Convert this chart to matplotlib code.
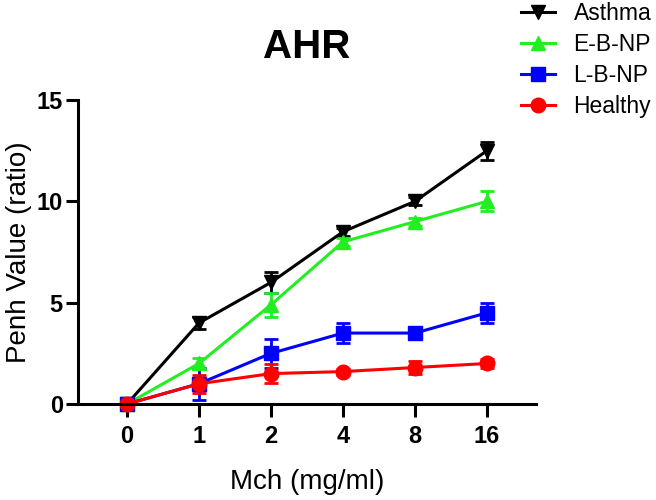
import matplotlib.pyplot as plt
from matplotlib.lines import Line2D

plt.rcParams['font.family'] = ['Liberation Sans', 'DejaVu Sans']

doses = ['0', '1', '2', '4', '8', '16']
asthma = [0, 4.0, 6.0, 8.5, 10.0, 12.5]
asthma_err = [0, 0.3, 0.5, 0.2, 0.2, 0.45]
ebnp = [0, 2.0, 4.9, 8.0, 9.0, 10.0]
ebnp_err = [0, 0.25, 0.6, 0.2, 0.2, 0.5]
lbnp = [0, 1.0, 2.5, 3.5, 3.5, 4.5]
lbnp_err = [0, 0.8, 0.7, 0.5, 0.2, 0.5]
healthy = [0, 1.0, 1.5, 1.6, 1.8, 2.0]
healthy_err = [0, 0.45, 0.45, 0.15, 0.3, 0.2]

x = list(range(len(doses)))

fig = plt.figure(figsize=(6.56, 5), dpi=100)
ax = fig.add_axes([0.119, 0.192, 0.698, 0.608])

series = [
    ('Asthma', asthma, asthma_err, 'black', 'v'),
    ('E-B-NP', ebnp, ebnp_err, '#22ee22', '^'),
    ('L-B-NP', lbnp, lbnp_err, '#0000ff', 's'),
    ('Healthy', healthy, healthy_err, '#ff0000', 'o'),
]
handles = []
for name, vals, errs, col, mk in series:
    ax.errorbar(x, vals, yerr=errs, color=col, marker=mk, markersize=10.5,
                linewidth=2.2, elinewidth=2, capsize=5, capthick=2,
                clip_on=False)
    handles.append(Line2D([], [], color=col, marker=mk, markersize=10.5,
                          linewidth=2.2, label=name))

ax.set_xlim(-0.68, 5.68)
ax.set_ylim(0, 15)
ax.set_xticks(x)
ax.set_xticklabels(doses)
ax.set_yticks([0, 5, 10, 15])
ax.spines['top'].set_visible(False)
ax.spines['right'].set_visible(False)
ax.spines['left'].set_linewidth(2.2)
ax.spines['bottom'].set_linewidth(2.2)
ax.tick_params(width=2.2, length=9, labelsize=17)
ax.tick_params(axis='x', pad=6)
ax.tick_params(axis='y', pad=2)
for lbl in ax.get_xticklabels() + ax.get_yticklabels():
    lbl.set_fontweight('bold')

ax.set_xlabel('Mch (mg/ml)', fontsize=20, labelpad=15)
ax.set_ylabel('Penh Value (ratio)', fontsize=20, labelpad=3)
ax.set_title('AHR', fontsize=29, fontweight='bold', pad=30)

fig.legend(handles=handles, loc='upper left', bbox_to_anchor=(0.794, 0.996),
           frameon=False, fontsize=16.5, handlelength=1.5, labelspacing=0.35,
           handletextpad=0.8, borderpad=0, borderaxespad=0)

fig.savefig('out.png', dpi=100)
